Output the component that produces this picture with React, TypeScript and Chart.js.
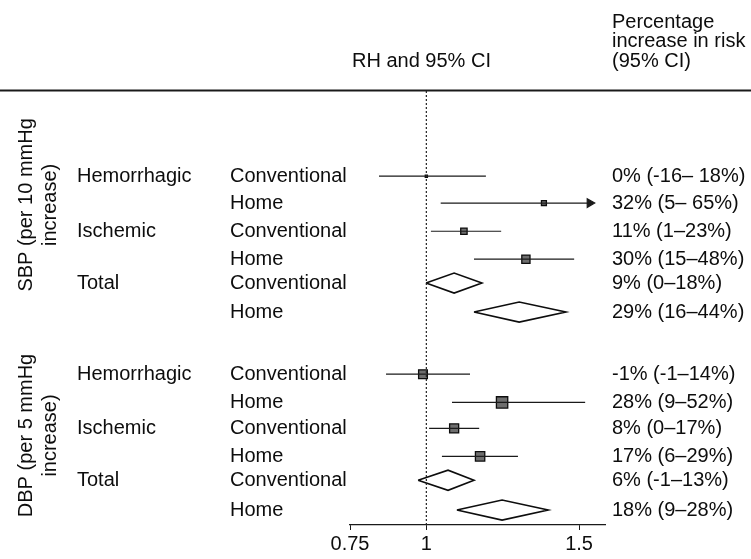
import React, { useEffect, useRef } from 'react';
import { Chart, registerables } from 'chart.js';

Chart.register(...registerables);

// ---- data ----
const subtypes = ['Hemorrhagic', '', 'Ischemic', '', 'Total', '', 'Hemorrhagic', '', 'Ischemic', '', 'Total', ''];
const methods = ['Conventional', 'Home', 'Conventional', 'Home', 'Conventional', 'Home', 'Conventional', 'Home', 'Conventional', 'Home', 'Conventional', 'Home'];
const rowPos = [3.14, 4.13, 5.17, 6.2, 7.08, 8.15, 10.44, 11.48, 12.44, 13.47, 14.35, 15.45];
const estimate = [1.0, 1.385, 1.123, 1.326, 1.091, 1.304, 0.989, 1.248, 1.091, 1.176, 1.071, 1.248];
const lower = [0.845, 1.047, 1.015, 1.156, 0.999, 1.156, 0.868, 1.084, 1.009, 1.051, 0.973, 1.1];
const upper = [1.195, 1.535, 1.245, 1.484, 1.182, 1.457, 1.143, 1.52, 1.173, 1.3, 1.156, 1.399];
const pooled = [false, false, false, false, true, true, false, false, false, false, true, true];
const truncated = [false, true, false, false, false, false, false, false, false, false, false, false];
const markerSize = [1.5, 3.5, 4.5, 5.8, 0, 0, 6.2, 8, 6.4, 6.6, 0, 0];
const riskText = ['0% (-16– 18%)', '32% (5– 65%)', '11% (1–23%)', '30% (15–48%)', '9% (0–18%)', '29% (16–44%)', '-1% (-1–14%)', '28% (9–52%)', '8% (0–17%)', '17% (6–29%)', '6% (-1–13%)', '18% (9–28%)'];
const xTicks = [0.75, 1, 1.5];
const groupLabels = [['SBP (per 10 mmHg', 'increase)'], ['DBP (per 5 mmHg', 'increase)']];
const groupCenter = [4.2, 12.7];
const headerCI = 'RH and 95% CI';
const headerRisk = ['Percentage', 'increase in risk', '(95% CI)'];

const FONT = "'Liberation Sans', Arial, Helvetica, sans-serif";
const INK = '#0d0d0d';

const textPlugin = {
  id: 'forestText',
  afterDraw(chart: any) {
    const ctx = chart.ctx;
    const y = chart.scales.y;
    const area = chart.chartArea;
    ctx.save();
    // top rule
    ctx.strokeStyle = '#1a1a1a';
    ctx.lineWidth = 2;
    ctx.beginPath();
    ctx.moveTo(0, area.top - 0.5);
    ctx.lineTo(chart.width, area.top - 0.5);
    ctx.stroke();

    ctx.fillStyle = INK;
    ctx.font = `20px ${FONT}`;
    ctx.textBaseline = 'middle';
    ctx.textAlign = 'left';
    // headers
    ctx.fillText(headerCI, 352, 61);
    headerRisk.forEach((t, i) => ctx.fillText(t, 612, 22 + i * 19.5));

    // row labels
    rowPos.forEach((r, i) => {
      const py = y.getPixelForValue(r);
      if (subtypes[i]) ctx.fillText(subtypes[i], 77, py);
      ctx.fillText(methods[i], 230, py);
      ctx.fillText(riskText[i], 612, py);
    });

    // rotated group labels
    groupLabels.forEach((lines, g) => {
      const cy = y.getPixelForValue(groupCenter[g]);
      lines.forEach((t, j) => {
        ctx.save();
        ctx.translate(26 + j * 24, cy);
        ctx.rotate(-Math.PI / 2);
        ctx.textAlign = 'center';
        ctx.fillText(t, 0, 0);
        ctx.restore();
      });
    });
    ctx.restore();
  },
};

export default function App() {
  const ref = useRef<HTMLCanvasElement | null>(null);

  useEffect(() => {
    document.body.style.margin = '0';
    const datasets: any[] = [];
    const half = 0.37;

    // reference line at RH = 1
    datasets.push({
      data: [{ x: 1, y: 0 }, { x: 1, y: 16 }],
      showLine: true,
      borderColor: '#222',
      borderWidth: 1.2,
      borderDash: [2, 2],
      pointRadius: 0,
    });

    rowPos.forEach((r, i) => {
      if (pooled[i]) {
        datasets.push({
          data: [
            { x: lower[i], y: r },
            { x: estimate[i], y: r - half },
            { x: upper[i], y: r },
            { x: estimate[i], y: r + half },
            { x: lower[i], y: r },
          ],
          showLine: true,
          borderColor: INK,
          borderWidth: 1.6,
          pointRadius: 0,
          fill: false,
          tension: 0,
        });
      } else {
        datasets.push({
          data: [{ x: lower[i], y: r }, { x: upper[i], y: r }],
          showLine: true,
          borderColor: '#1a1a1a',
          borderWidth: 1.2,
          pointRadius: [0, truncated[i] ? 5 : 0],
          pointStyle: 'triangle',
          rotation: 90,
          pointBackgroundColor: '#1a1a1a',
          pointBorderColor: '#1a1a1a',
        });
      }
    });

    const estIdx = rowPos.map((_, i) => i).filter((i) => !pooled[i]);
    datasets.push({
      data: estIdx.map((i) => ({ x: estimate[i], y: rowPos[i] })),
      pointStyle: 'rect',
      pointRadius: estIdx.map((i) => markerSize[i]),
      backgroundColor: '#6e6e6e',
      borderColor: '#0d0d0d',
      borderWidth: 1.3,
    });

    const chart = new Chart(ref.current as HTMLCanvasElement, {
      type: 'scatter',
      data: { datasets },
      options: {
        animation: false,
        responsive: false,
        devicePixelRatio: 1,
        layout: { padding: { left: 350, right: 146, top: 91, bottom: 0 } },
        plugins: { legend: { display: false }, tooltip: { enabled: false } },
        scales: {
          x: {
            type: 'linear',
            min: 0.75,
            max: 1.585,
            afterBuildTicks: (s: any) => {
              s.ticks = xTicks.map((v) => ({ value: v }));
            },
            afterFit: (s: any) => {
              s.height = 34;
            },
            ticks: {
              autoSkip: false,
              maxRotation: 0,
              padding: 2,
              color: INK,
              font: { size: 20, family: FONT },
              callback: (v: any) => String(v),
            },
            grid: { drawOnChartArea: false, drawTicks: true, tickLength: 5, color: '#1a1a1a' },
            border: { display: true, color: '#1a1a1a', width: 1.2 },
          },
          y: { type: 'linear', min: 0, max: 16, reverse: true, display: false },
        },
      } as any,
      plugins: [textPlugin],
    });
    return () => chart.destroy();
  }, []);

  return (
    <div style={{ position: 'absolute', left: 0, top: 0, width: 751, height: 559, background: '#fff' }}>
      <canvas ref={ref} width={751} height={559} />
    </div>
  );
}
